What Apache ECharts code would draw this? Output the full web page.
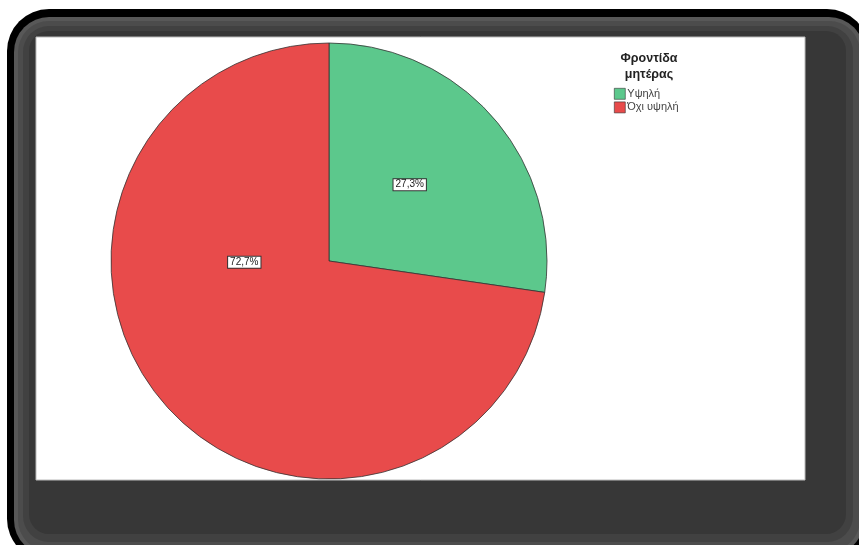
<!DOCTYPE html>
<html><head><meta charset="utf-8">
<script src="https://cdn.jsdelivr.net/npm/echarts@6/dist/echarts.min.js"></script>
<style>html,body{margin:0;padding:0;background:#fff}#c{width:859px;height:545px}</style>
</head><body><div id="c"></div>
<script>
const categories = ['Υψηλή', 'Όχι υψηλή'];
const percentValues = [27.3, 72.7];
const sliceColors = ['#5CC88C', '#E84B4B'];
const legendTitle = 'Φροντίδα\nμητέρας';

const chart = echarts.init(document.getElementById('c'), null, {renderer: 'canvas'});
const font = "'Liberation Sans', Arial, sans-serif";
chart.setOption({
  backgroundColor: '#fff',
  animation: false,
  graphic: [
    {type: 'rect', z: -10, shape: {x: 7, y: 9, width: 862, height: 552, r: 42}, style: {fill: '#000'}},
    {type: 'rect', z: -9, shape: {x: 14, y: 17, width: 850, height: 538, r: 35}, style: {fill: '#585858'}},
    {type: 'rect', z: -8, shape: {x: 18, y: 21, width: 842, height: 530, r: 31}, style: {fill: '#4c4c4c'}},
    {type: 'rect', z: -7, shape: {x: 23, y: 26, width: 830, height: 516, r: 26}, style: {fill: '#414141'}},
    {type: 'rect', z: -6, shape: {x: 29, y: 31, width: 817, height: 503, r: 20}, style: {fill: '#373737'}},
    {type: 'rect', z: -5, shape: {x: 36, y: 37, width: 769, height: 443}, style: {fill: '#fff', stroke: '#bbb', lineWidth: 1}}
  ],
  title: {
    text: legendTitle,
    left: 644, top: 46, textAlign: 'center',
    textStyle: {fontFamily: font, fontSize: 12.5, fontWeight: 'bold', color: '#222', lineHeight: 16}
  },
  legend: {
    orient: 'vertical', left: 609, top: 83,
    itemWidth: 11, itemHeight: 11, itemGap: 2, icon: 'rect',
    data: categories,
    itemStyle: {borderColor: '#333', borderWidth: 0.6},
    textStyle: {fontFamily: font, fontSize: 11, color: '#444', padding: [0, 0, 0, -3]}
  },
  series: [{
    type: 'pie',
    z: 2,
    center: [329, 261],
    radius: 218,
    startAngle: 90,
    clockwise: true,
    avoidLabelOverlap: false,
    itemStyle: {borderColor: '#333', borderWidth: 0.8},
    label: {
      show: true, position: 'inside',
      formatter: p => p.value.toFixed(1).replace('.', ',') + '%',
      fontFamily: font, fontSize: 10, color: '#222',
      backgroundColor: '#fff', borderColor: '#333', borderWidth: 1, padding: [1, 2, 0, 2]
    },
    labelLayout: p => (p.dataIndex === 1 ? {dy: -72} : {dx: -4, dy: -3}),
    emphasis: {disabled: true},
    data: categories.map((c, i) => ({name: c, value: percentValues[i], itemStyle: {color: sliceColors[i]}}))
  }]
});
</script></body></html>
